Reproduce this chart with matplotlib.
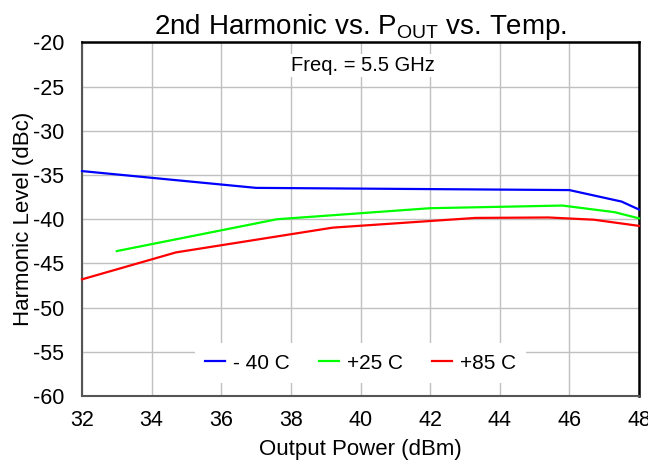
import matplotlib
matplotlib.use("Agg")
import matplotlib.pyplot as plt

plt.rcParams['font.family'] = ['Liberation Sans', 'DejaVu Sans']
plt.rcParams['mathtext.fontset'] = 'custom'
plt.rcParams['mathtext.rm'] = 'Liberation Sans'
plt.rcParams['mathtext.it'] = 'Liberation Sans'
plt.rcParams['axes.unicode_minus'] = False

# Data
x_m40 = [32.0, 37.0, 46.0, 47.5, 48.0]
y_m40 = [-34.55, -36.45, -36.7, -38.0, -38.9]
x_p25 = [33.0, 37.6, 42.0, 45.8, 47.3, 48.0]
y_p25 = [-43.6, -40.0, -38.75, -38.45, -39.2, -39.9]
x_p85 = [32.0, 34.7, 39.2, 43.3, 45.4, 46.7, 48.0]
y_p85 = [-46.8, -43.75, -40.95, -39.85, -39.8, -40.05, -40.75]
labels = ['- 40 C', '+25 C', '+85 C']
colors = ['#0000ff', '#00ff00', '#ff0000']
xticks = [32, 34, 36, 38, 40, 42, 44, 46, 48]
yticks = [-60, -55, -50, -45, -40, -35, -30, -25, -20]

fig = plt.figure(figsize=(6.48, 4.61), dpi=100)
ax = fig.add_axes([82/648, 1-396/461, (639-82)/648, (396-42.5)/461])

for xs, ys, lab, c in zip([x_m40, x_p25, x_p85], [y_m40, y_p25, y_p85], labels, colors):
    ax.plot(xs, ys, color=c, lw=1.6, label=lab, clip_on=False, zorder=3)

ax.set_xlim(32, 48)
ax.set_ylim(-60, -20)
ax.set_xticks(xticks)
ax.set_yticks(yticks)
ax.tick_params(axis='both', length=0, labelsize=15.5)
ax.tick_params(axis='x', pad=10)
ax.tick_params(axis='y', pad=13)
ax.grid(True, color='#c0c0c0', lw=1.0)
ax.set_axisbelow(True)
for s in ['top', 'right']:
    ax.spines[s].set_color('black')
    ax.spines[s].set_linewidth(1.8)
for s in ['left', 'bottom']:
    ax.spines[s].set_color('#555555')
    ax.spines[s].set_linewidth(1.5)

ax.set_xlabel('Output Power (dBm)', fontsize=16, labelpad=6)
ax.set_ylabel('Harmonic Level (dBc)', fontsize=16, labelpad=-1)
ax.set_title(r'2nd Harmonic vs. P$_{\mathrm{OUT}}$ vs. Temp.', fontsize=20, pad=5)

ax.text(0.505, 0.936, 'Freq. = 5.5 GHz', transform=ax.transAxes, ha='center', va='center',
        fontsize=14.5, bbox=dict(facecolor='white', edgecolor='none', pad=1.5))

leg = ax.legend(loc='center', bbox_to_anchor=(0.5, 0.093), ncol=3, frameon=True,
                fontsize=15, handlelength=0.96, handletextpad=0.38, columnspacing=1.4,
                borderpad=0.5, fancybox=False)
leg.get_frame().set_facecolor('white')
leg.get_frame().set_edgecolor('none')
leg.get_frame().set_alpha(1)

fig.savefig('out.png', dpi=100)
